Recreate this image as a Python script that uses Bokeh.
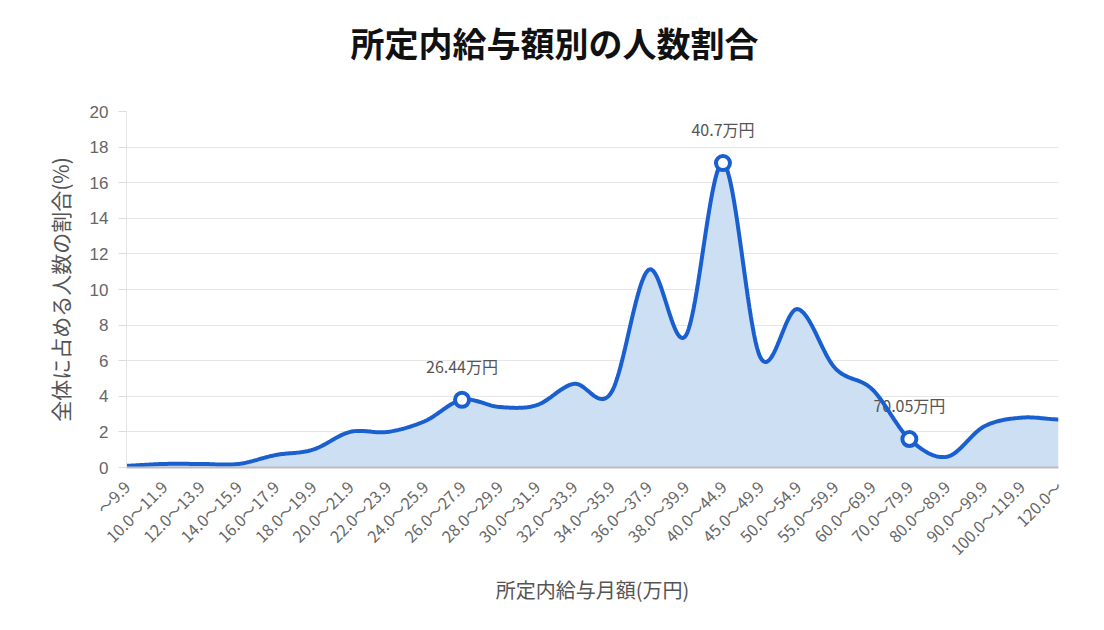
import numpy as np
from bokeh.plotting import figure
from bokeh.models import FixedTicker, Range1d, ColumnDataSource, Title
from bokeh.embed import file_html
from bokeh.resources import INLINE

categories = ["～9.9", "10.0～11.9", "12.0～13.9", "14.0～15.9", "16.0～17.9", "18.0～19.9",
              "20.0～21.9", "22.0～23.9", "24.0～25.9", "26.0～27.9", "28.0～29.9", "30.0～31.9",
              "32.0～33.9", "34.0～35.9", "36.0～37.9", "38.0～39.9", "40.0～44.9", "45.0～49.9",
              "50.0～54.9", "55.0～59.9", "60.0～69.9", "70.0～79.9", "80.0～89.9", "90.0～99.9",
              "100.0～119.9", "120.0～"]
share = [0.1, 0.2, 0.2, 0.2, 0.7, 1.0, 2.0, 2.0, 2.6, 3.8, 3.4, 3.5, 4.7, 4.2, 11.1, 7.4,
         17.1, 6.2, 8.9, 5.6, 4.4, 1.6, 0.6, 2.3, 2.8, 2.7]
marked_idx = [9, 16, 21]
marked_labels = ["26.44万円", "40.7万円", "70.05万円"]
y_ticks = [0, 2, 4, 6, 8, 10, 12, 14, 16, 18, 20]
title_text = "所定内給与額別の人数割合"

x = np.arange(len(categories), dtype=float)
y = np.array(share, dtype=float)

# smooth (Catmull-Rom) rendering of the line through the data points
def catmull(xs, ys, n=24):
    px = np.concatenate([[2 * xs[0] - xs[1]], xs, [2 * xs[-1] - xs[-2]]])
    py = np.concatenate([[ys[0]], ys, [ys[-1]]])
    ox, oy = [], []
    for i in range(1, len(px) - 2):
        t = np.linspace(0, 1, n, endpoint=False)
        p0, p1, p2, p3 = py[i - 1], py[i], py[i + 1], py[i + 2]
        q0, q1, q2, q3 = px[i - 1], px[i], px[i + 1], px[i + 2]
        t2, t3 = t * t, t * t * t
        oy.extend(0.5 * (2 * p1 + (-p0 + p2) * t + (2 * p0 - 5 * p1 + 4 * p2 - p3) * t2 + (-p0 + 3 * p1 - 3 * p2 + p3) * t3))
        ox.extend(0.5 * (2 * q1 + (-q0 + q2) * t + (2 * q0 - 5 * q1 + 4 * q2 - q3) * t2 + (-q0 + 3 * q1 - 3 * q2 + q3) * t3))
    ox.append(xs[-1]); oy.append(ys[-1])
    return np.array(ox), np.array(oy)

sx, sy = catmull(x, y)

p = figure(width=1104, height=630, output_backend="svg", toolbar_location=None,
           x_range=Range1d(0, len(categories) - 1), y_range=Range1d(0, 20),
           min_border_left=126, min_border_right=46, min_border_top=111, min_border_bottom=163)

# invisible spacer panel between the title and the plot frame
p.add_layout(Title(text=" ", text_font_size="10px", standoff=32, text_color="white"), "above")

p.title.text = title_text
p.title.align = "left"
p.title.text_font = "Noto Sans CJK JP"
p.title.text_font_size = "34px"
p.title.text_font_style = "bold"
p.title.text_color = "#111111"
p.title.offset = 224
p.title.standoff = 0

p.outline_line_color = None
p.background_fill_color = "white"
p.border_fill_color = "white"

p.varea(x=sx, y1=np.zeros_like(sy), y2=sy, fill_color="#cddff3", fill_alpha=1.0)

src = ColumnDataSource(dict(x=[x[i] for i in marked_idx], y=[y[i] for i in marked_idx],
                            lab=marked_labels))
p.text(x="x", y="y", text="lab", source=src, y_offset=-22, text_align="center",
       text_baseline="bottom", text_color="#555555", text_font_size="16px",
       text_font={"value": "Noto Sans CJK JP"})
p.line(x=sx, y=sy, line_color="#1a5fd0", line_width=4)
p.scatter(x="x", y="y", source=src, size=14, fill_color="white", line_color="#1a5fd0", line_width=4)

# axes
p.xaxis.ticker = FixedTicker(ticks=list(range(len(categories))))
p.xaxis.major_label_overrides = {i: c for i, c in enumerate(categories)}
p.xaxis.major_label_orientation = np.pi / 4
p.xaxis.major_label_text_font = "Noto Sans CJK JP"
p.xaxis.major_label_text_font_size = "16px"
p.xaxis.major_label_text_color = "#666666"
p.xaxis.major_tick_line_color = None
p.xaxis.minor_tick_line_color = None
p.xaxis.axis_line_color = "#bbbbbb"
p.xaxis.axis_line_width = 2
p.xaxis.major_label_standoff = 10
p.xaxis.axis_label = "所定内給与月額(万円)"
p.xaxis.axis_label_text_font = "Noto Sans CJK JP"
p.xaxis.axis_label_text_font_size = "20px"
p.xaxis.axis_label_text_font_style = "normal"
p.xaxis.axis_label_text_color = "#555555"
p.xaxis.axis_label_standoff = 4

p.yaxis.ticker = FixedTicker(ticks=y_ticks)
p.yaxis.major_label_text_font = "Liberation Sans"
p.yaxis.major_label_text_font_size = "17px"
p.yaxis.major_label_text_color = "#666666"
p.yaxis.major_tick_line_color = "#dddddd"
p.yaxis.major_tick_out = 8
p.yaxis.major_tick_in = 0
p.yaxis.minor_tick_line_color = None
p.yaxis.axis_line_color = "#e6e6e6"
p.yaxis.major_label_standoff = 10
p.yaxis.axis_label = "全体に占める人数の割合(%)"
p.yaxis.axis_label_text_font = "Noto Sans CJK JP"
p.yaxis.axis_label_text_font_size = "21px"
p.yaxis.axis_label_text_font_style = "normal"
p.yaxis.axis_label_text_color = "#555555"
p.yaxis.axis_label_standoff = 12

p.xgrid.grid_line_color = None
p.ygrid.grid_line_color = "#e6e6e6"
p.ygrid.grid_line_width = 1

open("out.html", "w").write(file_html(p, INLINE))
